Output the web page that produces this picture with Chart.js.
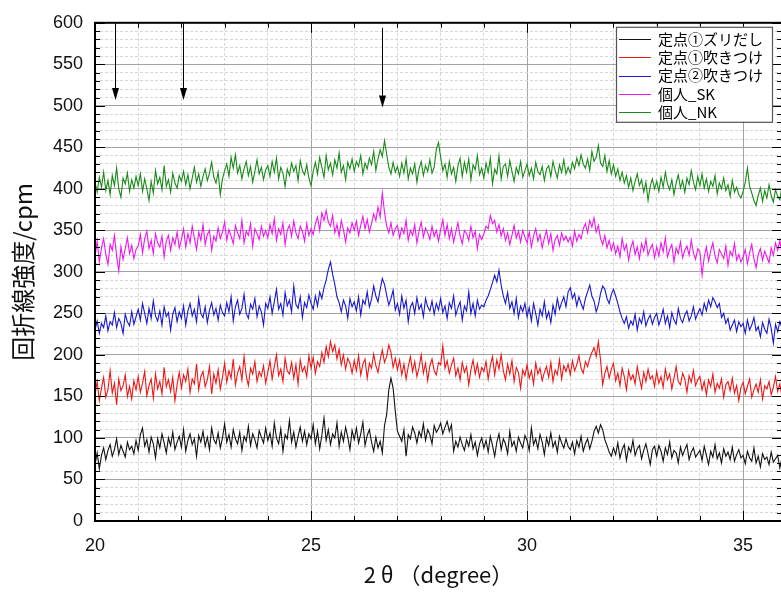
<!DOCTYPE html>
<html><head><meta charset="utf-8">
<script src="https://cdn.jsdelivr.net/npm/chart.js@4/dist/chart.umd.min.js"></script>
<style>html,body{margin:0;padding:0;background:#fff;overflow:hidden;width:781px;height:594px}</style>
</head><body>
<canvas id="c" width="790" height="594" style="display:block;width:790px;height:594px"></canvas>
<script>
const seriesNames = ['定点①ズリだし', '定点①吹きつけ', '定点②吹きつけ', '個人_SK', '個人_NK'];
const seriesColors = ['#111111', '#ee1515', '#1818cc', '#ee16ee', '#178a17'];
const xStart = 20, xStep = 0.05;

const zuri1 = [
68,82,63,79,88,74,85,92,78,86,99,80,91,84,77,95,86,90,81,97,
85,104,112,90,98,83,101,93,76,99,88,105,94,82,100,91,107,86,95,102,
89,110,84,97,105,92,99,78,103,95,108,90,101,86,112,98,93,106,88,100,
117,95,104,89,110,99,93,107,85,102,96,114,91,105,98,88,109,101,94,112,
97,106,90,118,100,93,111,84,104,99,121,95,107,89,102,113,96,108,92,105,
99,116,93,108,87,103,124,97,110,92,105,100,118,90,107,96,113,101,86,109,
98,112,94,105,119,91,103,110,95,84,101,88,96,82,115,128,158,172,160,132,
108,102,96,110,78,104,99,113,106,94,108,101,117,97,110,104,93,115,107,111,
118,105,113,120,108,116,84,96,89,101,92,85,98,90,104,87,95,79,93,100,
88,97,83,102,91,78,95,105,86,99,93,81,108,90,96,84,101,94,88,103,
97,85,112,92,99,87,104,95,80,100,91,106,89,96,83,102,94,88,99,90,
86,95,81,97,89,102,84,93,99,87,96,108,114,106,116,110,98,91,83,78,
88,80,94,76,86,92,73,89,83,97,79,87,91,75,85,93,81,68,86,90,
78,91,84,72,88,80,95,76,85,82,70,89,79,86,92,74,83,88,77,81,
85,73,90,79,68,84,77,92,75,82,70,87,78,83,74,89,72,80,86,76,
79,69,84,76,72,88,70,78,65,81,74,77,68,83,71,75,79,64,76,72,
78];

const fuki1 = [
152,168,145,160,173,149,158,181,154,166,140,171,157,163,176,150,162,147,169,158,
174,155,166,180,151,163,171,148,177,159,168,153,185,162,170,156,173,145,164,179,
160,176,168,183,155,171,165,189,158,174,180,162,170,186,153,177,166,182,159,173,
190,167,181,172,195,164,178,186,170,198,175,163,184,177,192,168,180,174,187,166,
179,193,171,186,200,175,183,168,196,181,177,191,172,188,165,194,180,186,174,199,
184,197,178,192,186,203,191,210,198,216,204,212,195,207,188,200,183,196,190,178,
193,181,199,176,189,195,172,190,184,201,187,179,194,206,191,198,212,203,185,196,
182,194,176,189,171,186,198,180,192,174,185,200,178,190,169,187,195,181,176,191,
188,211,184,193,178,188,196,175,184,170,191,179,186,164,182,194,177,189,173,185,
180,192,171,187,198,176,194,183,200,181,170,189,177,193,168,185,179,160,182,175,
188,172,181,165,190,177,184,169,179,186,173,191,168,182,176,194,171,187,180,189,
176,193,181,188,199,184,178,192,186,196,203,209,198,216,194,164,178,186,172,183,
190,169,178,163,184,174,158,181,170,176,165,186,172,160,179,168,183,171,175,162,
180,166,174,161,183,170,177,159,172,186,168,164,178,171,155,175,167,181,163,170,
174,158,168,152,170,162,177,155,166,160,171,149,164,168,157,172,154,163,145,161,
167,153,162,171,149,158,165,155,170,147,163,159,168,152,161,174,156,165,150,162,
158];

const fuki2 = [
230,241,226,238,233,247,229,240,236,251,233,244,238,226,249,240,235,252,237,246,
255,242,262,250,238,256,244,265,247,241,253,236,258,246,251,230,249,257,240,252,
244,259,236,253,262,247,255,240,268,250,245,258,239,254,263,248,256,242,260,251,
247,263,252,270,241,258,266,249,256,273,250,244,261,255,268,246,259,252,236,262,
256,270,250,264,279,255,262,248,275,259,266,252,283,261,256,270,245,263,257,272,
262,255,271,259,276,268,281,290,303,312,297,285,270,263,252,266,259,244,268,258,
264,253,270,248,266,261,276,258,267,283,271,264,279,292,285,272,260,268,278,254,
262,249,271,256,266,240,258,263,250,269,255,261,246,268,258,253,265,249,262,254,
268,251,259,244,263,256,271,248,257,264,242,259,253,276,250,262,247,266,255,260,
258,266,271,279,287,296,288,302,284,271,262,275,256,264,250,268,245,259,252,262,
246,257,241,262,250,236,255,247,264,244,252,239,260,249,268,255,263,270,258,276,
281,268,274,259,270,262,255,268,276,284,271,265,252,260,274,283,279,268,262,273,
279,271,262,252,244,238,246,232,241,236,249,230,244,238,252,235,243,248,237,245,
250,236,244,255,238,247,233,251,242,237,256,244,239,248,253,241,247,258,243,250,
256,248,262,253,266,258,269,264,257,262,245,250,238,244,230,236,242,228,240,234,
238,226,242,230,236,245,229,234,222,239,231,226,243,232,214,237,228,240,233,236,
238];

const kojinSK = [
318,337,312,329,340,321,309,333,326,344,319,301,330,315,328,341,322,332,316,327,
331,345,323,340,349,328,338,322,346,335,330,343,318,337,344,326,341,333,348,329,
339,352,330,346,335,355,341,327,348,338,357,333,345,350,326,343,337,353,340,348,
360,338,351,343,334,356,347,340,362,335,349,344,358,331,352,346,339,355,343,350,
341,357,346,364,338,352,345,359,333,350,356,343,361,347,340,355,349,337,358,344,
352,345,358,366,350,371,362,374,360,355,368,347,357,343,362,351,336,353,347,359,
350,361,344,356,367,352,363,348,358,370,362,378,366,395,372,355,347,359,344,352,
356,341,353,346,362,338,350,344,357,335,349,360,342,353,347,339,355,343,350,337,
351,363,344,357,340,352,336,348,359,343,334,350,346,338,355,341,349,328,345,339,
346,355,352,368,358,362,348,357,343,352,338,347,333,344,356,341,349,336,350,342,
335,348,330,343,352,337,345,329,341,350,334,346,326,339,344,332,347,338,343,336,
342,331,349,337,345,340,352,358,347,362,354,365,348,356,340,333,344,329,338,326,
335,322,331,318,340,326,333,314,329,337,321,330,316,334,325,339,320,328,333,317,
330,319,335,324,341,318,327,333,312,329,322,336,317,326,331,320,338,323,315,328,
324,296,318,330,313,326,335,319,311,327,322,316,331,308,325,319,334,314,321,312,
318,327,310,323,333,316,305,321,328,314,325,318,311,329,320,335,326,338,322,330,
326];

const kojinNK = [
408,396,414,402,420,398,410,393,416,404,425,400,390,413,406,419,397,411,401,415,
404,418,397,412,400,386,409,395,422,406,414,399,428,403,411,396,419,407,401,416,
409,421,405,417,400,413,426,408,418,403,415,424,410,419,432,414,407,420,393,412,
422,430,415,438,425,441,419,428,412,424,433,416,427,408,421,435,418,426,411,423,
428,415,433,420,437,412,426,419,403,424,416,431,421,428,410,434,422,417,429,413,
404,421,432,418,438,426,414,440,423,431,417,435,425,443,420,428,411,432,424,436,
421,433,427,440,418,431,424,437,429,445,422,436,447,439,458,442,426,418,432,420,
427,415,431,419,436,412,425,418,430,408,424,433,416,428,421,435,419,426,448,456,
438,422,430,414,433,418,426,409,428,437,415,432,420,436,411,429,423,440,417,425,
413,431,420,437,406,424,418,440,412,427,430,415,434,421,409,426,418,433,414,422,
430,416,425,412,432,421,417,427,410,424,428,415,433,422,413,429,420,435,418,426,
419,432,424,437,428,441,430,425,436,422,445,433,438,452,431,427,440,421,434,418,
429,415,424,410,420,407,416,402,413,398,409,418,404,411,396,408,386,403,412,400,
409,397,414,402,420,406,399,411,393,407,417,401,410,396,413,405,422,408,399,415,
404,418,401,412,397,409,403,416,394,407,400,413,398,405,391,410,396,402,393,389,
397,408,425,403,395,386,380,392,401,385,398,389,405,392,384,399,391,387,403,395,
398];

const xTickValues = [20,21,22,23,24,25,26,27,28,29,30,31,32,33,34,35];
const xTickLabels = [20,25,30,35];
const yTickLabels = [0,50,100,150,200,250,300,350,400,450,500,550,600];
const yMinorStep = 10;
const arrowX = [20.47, 22.03, 26.65];
const arrowTop = [600, 600, 594];
const arrowTip = [507, 507, 498];

const allSeries = [zuri1, fuki1, fuki2, kojinSK, kojinNK];
const datasets = allSeries.map((arr, k) => ({
  label: seriesNames[k],
  data: arr.map((v, i) => ({x: xStart + i * xStep, y: v})),
  borderColor: seriesColors[k],
  backgroundColor: seriesColors[k],
  borderWidth: 1.1,
  pointRadius: 0,
  tension: 0,
  fill: false
}));

const isMajorX = v => Math.abs(v % 5) < 1e-6;
const isMajorY = v => Math.abs(v % 50) < 1e-6;

const framePlugin = {
  id: 'frame',
  afterDatasetsDraw(chart) {
    const {ctx, chartArea: a, scales: {x, y}} = chart;
    ctx.save();
    ctx.strokeStyle = '#000';
    ctx.lineWidth = 1;
    xTickValues.forEach(v => {
      const px = Math.round(x.getPixelForValue(v)) + 0.5;
      const L = isMajorX(v) ? 10 : 5;
      ctx.beginPath();
      ctx.moveTo(px, a.bottom); ctx.lineTo(px, a.bottom - L);
      ctx.moveTo(px, a.top); ctx.lineTo(px, a.top + L);
      ctx.stroke();
    });
    for (let v = 0; v <= 600; v += yMinorStep) {
      const py = Math.round(y.getPixelForValue(v)) + 0.5;
      const L = isMajorY(v) ? 10 : 5;
      ctx.beginPath();
      ctx.moveTo(a.left, py); ctx.lineTo(a.left + L, py);
      ctx.moveTo(a.right, py); ctx.lineTo(a.right - L, py);
      ctx.stroke();
    }
    ctx.lineWidth = 2;
    ctx.strokeRect(a.left, a.top, a.right - a.left, a.bottom - a.top);
    ctx.restore();
  },
  afterDraw(chart) {
    const {ctx, chartArea: a, scales: {x, y}} = chart;
    ctx.save();
    ctx.strokeStyle = '#000'; ctx.fillStyle = '#000'; ctx.lineWidth = 1;
    arrowX.forEach((v, i) => {
      const px = Math.round(x.getPixelForValue(v)) + 0.5;
      const y0 = y.getPixelForValue(arrowTop[i]);
      const y1 = y.getPixelForValue(arrowTip[i]);
      ctx.beginPath(); ctx.moveTo(px, y0); ctx.lineTo(px, y1 - 10); ctx.stroke();
      ctx.beginPath(); ctx.moveTo(px - 3.5, y1 - 12); ctx.lineTo(px + 3.5, y1 - 12); ctx.lineTo(px, y1); ctx.closePath(); ctx.fill();
    });
    const lx = a.right - 166, ly = a.top + 4, lw = 156, lh = 95;
    ctx.fillStyle = '#fff';
    ctx.fillRect(lx, ly, lw, lh);
    ctx.strokeStyle = '#555'; ctx.lineWidth = 1.2;
    ctx.strokeRect(lx + 0.5, ly + 0.5, lw, lh);
    ctx.font = '15px "Noto Sans CJK JP"';
    ctx.textBaseline = 'middle'; ctx.textAlign = 'left';
    chart.data.datasets.forEach((ds, i) => {
      const ry = ly + 12 + i * 18.4;
      ctx.strokeStyle = ds.borderColor; ctx.lineWidth = 1;
      ctx.beginPath(); ctx.moveTo(lx + 3, Math.round(ry) + 0.5); ctx.lineTo(lx + 35, Math.round(ry) + 0.5); ctx.stroke();
      ctx.fillStyle = '#000';
      ctx.fillText(ds.label, lx + 42, ry);
    });
    ctx.restore();
  }
};

new Chart(document.getElementById('c'), {
  type: 'line',
  data: {datasets},
  options: {
    responsive: false,
    animation: false,
    devicePixelRatio: 1,
    layout: {padding: {left: 0, top: 14, right: 8, bottom: 0}},
    plugins: {legend: {display: false}, tooltip: {enabled: false}},
    scales: {
      x: {
        type: 'linear', min: 20, max: 35.9,
        afterBuildTicks: s => { s.ticks = xTickValues.map(v => ({value: v})); },
        afterFit: s => { s.height = 73; },
        ticks: {
          autoSkip: false, maxRotation: 0, padding: 14, color: '#111',
          font: {family: '"Liberation Sans", Arial, sans-serif', size: 18},
          callback: v => xTickLabels.includes(v) ? String(v) : ''
        },
        grid: {drawTicks: false, lineWidth: 1,
          color: c => (c.tick && isMajorX(c.tick.value)) ? '#a3a3a3' : '#d6d6d6'},
        border: {display: false, dash: c => (c.tick && isMajorX(c.tick.value)) ? [] : [3, 2]},
        title: {display: true, text: '2 θ （degree）', color: '#111',
          font: {family: '"Noto Sans CJK JP"', size: 22}, padding: {top: 0, bottom: 6}}
      },
      y: {
        type: 'linear', min: 0, max: 600,
        afterBuildTicks: s => { const t = []; for (let v = 0; v <= 600; v += yMinorStep) t.push({value: v}); s.ticks = t; },
        afterFit: s => { s.width = 95; },
        ticks: {
          autoSkip: false, padding: 12, color: '#111',
          font: {family: '"Liberation Sans", Arial, sans-serif', size: 18},
          callback: v => yTickLabels.includes(v) ? String(v) : ''
        },
        grid: {drawTicks: false, lineWidth: 1,
          color: c => (c.tick && isMajorY(c.tick.value)) ? '#a3a3a3' : '#d6d6d6'},
        border: {display: false, dash: c => (c.tick && isMajorY(c.tick.value)) ? [] : [3, 2]},
        title: {display: true, text: '回折線強度/cpm', color: '#111',
          font: {family: '"Noto Sans CJK JP"', size: 24}, padding: {top: 8, bottom: 0}}
      }
    }
  },
  plugins: [framePlugin]
});
</script>
</body></html>
